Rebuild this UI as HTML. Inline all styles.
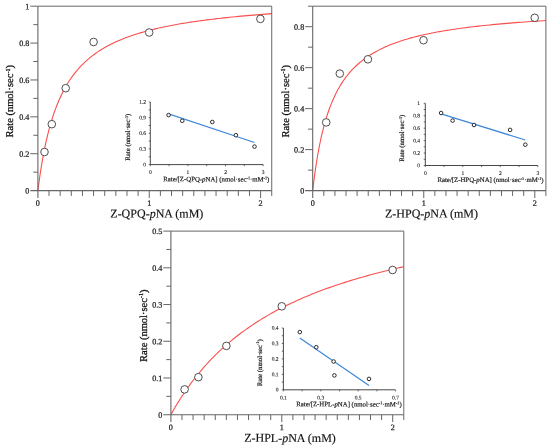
<!DOCTYPE html>
<html><head><meta charset="utf-8"><title>Kinetics</title>
<style>
html,body{margin:0;padding:0;background:#fff;}
svg{display:block;}
text{font-family:"Liberation Serif","Times New Roman",serif;fill:#222;text-rendering:geometricPrecision;}
.tk{font-size:8.15px;stroke:#222;stroke-width:0.25px;}
.tt{font-size:12px;fill:#111;stroke:#111;stroke-width:0.15px;}
.ty{font-size:10.5px;fill:#111;stroke:#111;stroke-width:0.28px;}
.it{font-size:5.5px;stroke:#222;stroke-width:0.1px;}
.ix{font-size:6.8px;stroke:#222;stroke-width:0.2px;}
</style></head><body>
<svg width="550" height="448" viewBox="0 0 550 448">
<rect width="550" height="448" fill="#fff"/>
<polyline points="37.90,190.60 38.01,189.72 38.23,187.97 38.54,185.63 38.91,182.84 39.35,179.70 39.84,176.27 40.38,172.63 40.97,168.83 41.61,164.91 42.29,160.91 43.01,156.86 43.77,152.80 44.58,148.74 45.42,144.71 46.29,140.72 47.21,136.78 48.16,132.92 49.14,129.13 50.15,125.43 51.20,121.82 52.28,118.30 53.39,114.88 54.53,111.55 55.71,108.33 56.91,105.20 58.14,102.17 59.40,99.24 60.69,96.40 62.00,93.66 63.35,91.01 64.72,88.45 66.11,85.98 67.54,83.59 68.99,81.28 70.46,79.05 71.96,76.90 73.49,74.82 75.04,72.82 76.62,70.88 78.22,69.01 79.84,67.20 81.49,65.46 83.17,63.77 84.86,62.14 86.58,60.57 88.32,59.05 90.09,57.58 91.88,56.15 93.69,54.78 95.52,53.45 97.37,52.16 99.25,50.91 101.15,49.71 103.07,48.54 105.01,47.40 106.97,46.31 108.96,45.25 110.96,44.22 112.99,43.22 115.04,42.25 117.10,41.31 119.19,40.40 121.30,39.51 123.43,38.66 125.58,37.82 127.74,37.01 129.93,36.23 132.14,35.46 134.37,34.72 136.61,34.00 138.88,33.30 141.16,32.61 143.47,31.95 145.79,31.30 148.13,30.68 150.50,30.06 152.88,29.47 155.27,28.89 157.69,28.32 160.13,27.77 162.58,27.23 165.05,26.71 167.54,26.20 170.05,25.70 172.58,25.22 175.12,24.75 177.68,24.28 180.26,23.83 182.86,23.39 185.47,22.96 188.11,22.54 190.76,22.13 193.42,21.73 196.11,21.34 198.81,20.96 201.53,20.59 204.26,20.22 207.01,19.87 209.78,19.52 212.57,19.18 215.37,18.84 218.19,18.52 221.03,18.20 223.88,17.89 226.75,17.58 229.64,17.28 232.54,16.99 235.46,16.70 238.39,16.42 241.35,16.14 244.31,15.87 247.30,15.61 250.30,15.35 253.31,15.09 256.34,14.85 259.39,14.60 262.45,14.36 265.53,14.13 268.63,13.90 271.74,13.67" fill="none" stroke="#f94f4d" stroke-width="1.1"/>
<path d="M37.9 6.2H271.735V190.6" fill="none" stroke="#666" stroke-width="1"/>
<path d="M37.9 6.2V198.0M30.299999999999997 190.6H271.735" fill="none" stroke="#666" stroke-width="1.1"/>
<path d="M49.03 190.6v5.3M60.17 190.6v5.3M71.30 190.6v5.3M82.44 190.6v5.3M93.57 190.6v5.3M104.71 190.6v5.3M115.84 190.6v5.3M126.98 190.6v5.3M138.12 190.6v5.3M149.25 190.6v7.4M160.38 190.6v5.3M171.52 190.6v5.3M182.66 190.6v5.3M193.79 190.6v5.3M204.93 190.6v5.3M216.06 190.6v5.3M227.19 190.6v5.3M238.33 190.6v5.3M249.47 190.6v5.3M260.60 190.6v7.4M271.73 190.6v5.3M37.9 172.16h-4.6M37.9 153.72h-7.6M37.9 135.28h-4.6M37.9 116.84h-7.6M37.9 98.40h-4.6M37.9 79.96h-7.6M37.9 61.52h-4.6M37.9 43.08h-7.6M37.9 24.64h-4.6M37.9 6.20h-7.6" fill="none" stroke="#666" stroke-width="1"/>
<text x="29.4" y="193.60" transform="rotate(0.04 29.4 193.60)" text-anchor="end" class="tk">0</text>
<text x="29.4" y="156.72" transform="rotate(0.04 29.4 156.72)" text-anchor="end" class="tk">0.2</text>
<text x="29.4" y="119.84" transform="rotate(0.04 29.4 119.84)" text-anchor="end" class="tk">0.4</text>
<text x="29.4" y="82.96" transform="rotate(0.04 29.4 82.96)" text-anchor="end" class="tk">0.6</text>
<text x="29.4" y="46.08" transform="rotate(0.04 29.4 46.08)" text-anchor="end" class="tk">0.8</text>
<text x="29.4" y="9.20" transform="rotate(0.04 29.4 9.20)" text-anchor="end" class="tk">1</text>
<text x="37.90" y="205.79999999999998" transform="rotate(0.04 37.90 205.79999999999998)" text-anchor="middle" class="tk">0</text>
<text x="149.25" y="205.79999999999998" transform="rotate(0.04 149.25 205.79999999999998)" text-anchor="middle" class="tk">1</text>
<text x="260.60" y="205.79999999999998" transform="rotate(0.04 260.60 205.79999999999998)" text-anchor="middle" class="tk">2</text>
<circle cx="44.5" cy="152.0" r="3.8" fill="#fff" stroke="#444" stroke-width="0.95"/>
<circle cx="51.8" cy="124.2" r="3.8" fill="#fff" stroke="#444" stroke-width="0.95"/>
<circle cx="65.7" cy="88.2" r="3.8" fill="#fff" stroke="#444" stroke-width="0.95"/>
<circle cx="93.6" cy="42" r="3.8" fill="#fff" stroke="#444" stroke-width="0.95"/>
<circle cx="149.2" cy="32.5" r="3.8" fill="#fff" stroke="#444" stroke-width="0.95"/>
<circle cx="260.4" cy="18.9" r="3.8" fill="#fff" stroke="#444" stroke-width="0.95"/>
<text x="156.8" y="217.6" transform="rotate(0.04 156.8 217.6)" text-anchor="middle" class="tt">Z-QPQ-<tspan font-style="italic">p</tspan>NA (mM)</text>
<text transform="translate(13.4 101.19999999999999) rotate(-90)" text-anchor="middle" class="ty">Rate (nmol·sec<tspan dy="-3.3" font-size="6.2">-1</tspan><tspan dy="3.3">)</tspan></text>
<path d="M150.3 102.0V164.6H263.2" fill="none" stroke="#333" stroke-width="0.9"/>
<path d="M150.3 164.60h-1.6M150.3 156.78h-1.6M150.3 148.95h-1.6M150.3 141.13h-1.6M150.3 133.30h-1.6M150.3 125.48h-1.6M150.3 117.65h-1.6M150.3 109.83h-1.6M150.3 102.00h-1.6M150.30 164.6v1.6M169.10 164.6v1.6M187.90 164.6v1.6M206.70 164.6v1.6M225.50 164.6v1.6M244.30 164.6v1.6M263.10 164.6v1.6" fill="none" stroke="#333" stroke-width="0.7"/>
<line x1="168.6" y1="113.9" x2="254.5" y2="142.5" stroke="#4088dc" stroke-width="1.25"/>
<circle cx="168.6" cy="115.1" r="1.8" fill="#fff" stroke="#222" stroke-width="0.95"/>
<circle cx="182.25" cy="120.8" r="1.8" fill="#fff" stroke="#222" stroke-width="0.95"/>
<circle cx="212.3" cy="122.0" r="1.8" fill="#fff" stroke="#222" stroke-width="0.95"/>
<circle cx="235.9" cy="135.2" r="1.8" fill="#fff" stroke="#222" stroke-width="0.95"/>
<circle cx="254.5" cy="146.6" r="1.8" fill="#fff" stroke="#222" stroke-width="0.95"/>
<text x="146.0" y="166.40" transform="rotate(0.04 146.0 166.40)" text-anchor="end" class="it">0</text>
<text x="146.0" y="150.75" transform="rotate(0.04 146.0 150.75)" text-anchor="end" class="it">0.3</text>
<text x="146.0" y="135.10" transform="rotate(0.04 146.0 135.10)" text-anchor="end" class="it">0.6</text>
<text x="146.0" y="119.45" transform="rotate(0.04 146.0 119.45)" text-anchor="end" class="it">0.9</text>
<text x="146.0" y="103.80" transform="rotate(0.04 146.0 103.80)" text-anchor="end" class="it">1.2</text>
<text x="150.3" y="174.0" transform="rotate(0.04 150.3 174.0)" text-anchor="middle" class="it">0</text>
<text x="187.9" y="174.0" transform="rotate(0.04 187.9 174.0)" text-anchor="middle" class="it">1</text>
<text x="225.6" y="174.0" transform="rotate(0.04 225.6 174.0)" text-anchor="middle" class="it">2</text>
<text x="263.2" y="174.0" transform="rotate(0.04 263.2 174.0)" text-anchor="middle" class="it">3</text>
<text x="216.3" y="181.4" transform="rotate(0.04 216.3 181.4)" text-anchor="middle" class="ix">Rate/[Z-QPQ-<tspan font-style="italic">p</tspan>NA] (nmol·sec<tspan dy="-2.2" font-size="4.2">-1</tspan><tspan dy="2.2">·mM</tspan><tspan dy="-2.2" font-size="4.2">-1</tspan><tspan dy="2.2">)</tspan></text>
<text transform="translate(129.7 137.20000000000002) rotate(-90)" text-anchor="middle" class="ix">Rate (nmol·sec<tspan dy="-2.2" font-size="4.2">-1</tspan><tspan dy="2.2">)</tspan></text>
<polyline points="312.70,190.60 312.81,189.64 313.03,187.72 313.34,185.16 313.71,182.13 314.14,178.73 314.63,175.04 315.17,171.15 315.76,167.10 316.40,162.96 317.08,158.75 317.80,154.52 318.56,150.31 319.36,146.12 320.20,141.99 321.07,137.93 321.98,133.95 322.93,130.06 323.91,126.28 324.92,122.60 325.96,119.03 327.04,115.57 328.15,112.22 329.29,108.98 330.46,105.86 331.66,102.85 332.88,99.94 334.14,97.15 335.42,94.45 336.74,91.85 338.08,89.35 339.44,86.95 340.84,84.64 342.26,82.41 343.70,80.26 345.18,78.20 346.67,76.22 348.20,74.30 349.74,72.47 351.31,70.69 352.91,68.99 354.53,67.34 356.18,65.76 357.84,64.24 359.54,62.77 361.25,61.35 362.99,59.98 364.75,58.66 366.53,57.39 368.34,56.16 370.16,54.97 372.01,53.83 373.89,52.72 375.78,51.65 377.69,50.62 379.63,49.62 381.59,48.65 383.57,47.72 385.57,46.81 387.59,45.93 389.63,45.09 391.69,44.26 393.77,43.47 395.87,42.70 398.00,41.95 400.14,41.22 402.30,40.52 404.48,39.83 406.69,39.17 408.91,38.53 411.15,37.90 413.41,37.29 415.69,36.71 417.98,36.13 420.30,35.57 422.64,35.03 424.99,34.51 427.37,33.99 429.76,33.49 432.17,33.01 434.60,32.54 437.04,32.08 439.51,31.63 441.99,31.19 444.49,30.76 447.01,30.35 449.55,29.95 452.11,29.55 454.68,29.17 457.27,28.79 459.88,28.43 462.50,28.07 465.14,27.72 467.80,27.38 470.48,27.05 473.17,26.72 475.89,26.41 478.61,26.10 481.36,25.79 484.12,25.50 486.90,25.21 489.70,24.93 492.51,24.65 495.34,24.38 498.18,24.11 501.04,23.86 503.92,23.60 506.82,23.35 509.73,23.11 512.65,22.87 515.60,22.64 518.56,22.41 521.53,22.19 524.52,21.97 527.53,21.76 530.55,21.55 533.59,21.34 536.65,21.14 539.72,20.94 542.80,20.75 545.90,20.56" fill="none" stroke="#f94f4d" stroke-width="1.1"/>
<path d="M312.7 6.2H545.905V190.6" fill="none" stroke="#666" stroke-width="1"/>
<path d="M312.7 6.2V198.0M305.09999999999997 190.6H545.905" fill="none" stroke="#666" stroke-width="1.1"/>
<path d="M323.81 190.6v5.3M334.91 190.6v5.3M346.01 190.6v5.3M357.12 190.6v5.3M368.22 190.6v5.3M379.33 190.6v5.3M390.44 190.6v5.3M401.54 190.6v5.3M412.64 190.6v5.3M423.75 190.6v7.4M434.86 190.6v5.3M445.96 190.6v5.3M457.06 190.6v5.3M468.17 190.6v5.3M479.27 190.6v5.3M490.38 190.6v5.3M501.49 190.6v5.3M512.59 190.6v5.3M523.69 190.6v5.3M534.80 190.6v7.4M545.90 190.6v5.3M312.7 170.11h-4.6M312.7 149.62h-7.6M312.7 129.13h-4.6M312.7 108.64h-7.6M312.7 88.16h-4.6M312.7 67.67h-7.6M312.7 47.18h-4.6M312.7 26.69h-7.6M312.7 6.20h-4.6" fill="none" stroke="#666" stroke-width="1"/>
<text x="304.2" y="193.60" transform="rotate(0.04 304.2 193.60)" text-anchor="end" class="tk">0</text>
<text x="304.2" y="152.62" transform="rotate(0.04 304.2 152.62)" text-anchor="end" class="tk">0.2</text>
<text x="304.2" y="111.64" transform="rotate(0.04 304.2 111.64)" text-anchor="end" class="tk">0.4</text>
<text x="304.2" y="70.67" transform="rotate(0.04 304.2 70.67)" text-anchor="end" class="tk">0.6</text>
<text x="304.2" y="29.69" transform="rotate(0.04 304.2 29.69)" text-anchor="end" class="tk">0.8</text>
<text x="312.70" y="205.79999999999998" transform="rotate(0.04 312.70 205.79999999999998)" text-anchor="middle" class="tk">0</text>
<text x="423.75" y="205.79999999999998" transform="rotate(0.04 423.75 205.79999999999998)" text-anchor="middle" class="tk">1</text>
<text x="534.80" y="205.79999999999998" transform="rotate(0.04 534.80 205.79999999999998)" text-anchor="middle" class="tk">2</text>
<circle cx="326.2" cy="122.4" r="3.8" fill="#fff" stroke="#444" stroke-width="0.95"/>
<circle cx="339.8" cy="73.6" r="3.8" fill="#fff" stroke="#444" stroke-width="0.95"/>
<circle cx="367.9" cy="59.3" r="3.8" fill="#fff" stroke="#444" stroke-width="0.95"/>
<circle cx="423.5" cy="40.2" r="3.8" fill="#fff" stroke="#444" stroke-width="0.95"/>
<circle cx="534.7" cy="17.8" r="3.8" fill="#fff" stroke="#444" stroke-width="0.95"/>
<text x="431.5" y="217.6" transform="rotate(0.04 431.5 217.6)" text-anchor="middle" class="tt">Z-HPQ-<tspan font-style="italic">p</tspan>NA (mM)</text>
<text transform="translate(288.7 101.19999999999999) rotate(-90)" text-anchor="middle" class="ty">Rate (nmol·sec<tspan dy="-3.3" font-size="6.2">-1</tspan><tspan dy="3.3">)</tspan></text>
<path d="M425.3 103.3V165.5H537.8" fill="none" stroke="#333" stroke-width="0.9"/>
<path d="M425.3 165.50h-1.6M425.3 159.28h-1.6M425.3 153.06h-1.6M425.3 146.84h-1.6M425.3 140.62h-1.6M425.3 134.40h-1.6M425.3 128.18h-1.6M425.3 121.96h-1.6M425.3 115.74h-1.6M425.3 109.52h-1.6M425.3 103.30h-1.6M425.30 165.5v1.6M444.05 165.5v1.6M462.80 165.5v1.6M481.55 165.5v1.6M500.30 165.5v1.6M519.05 165.5v1.6M537.80 165.5v1.6" fill="none" stroke="#333" stroke-width="0.7"/>
<line x1="441.1" y1="113.9" x2="525.3" y2="140.0" stroke="#4088dc" stroke-width="1.25"/>
<circle cx="441.1" cy="113.0" r="1.8" fill="#fff" stroke="#222" stroke-width="0.95"/>
<circle cx="452.6" cy="120.6" r="1.8" fill="#fff" stroke="#222" stroke-width="0.95"/>
<circle cx="474.0" cy="125.0" r="1.8" fill="#fff" stroke="#222" stroke-width="0.95"/>
<circle cx="510.1" cy="129.9" r="1.8" fill="#fff" stroke="#222" stroke-width="0.95"/>
<circle cx="525.3" cy="144.7" r="1.8" fill="#fff" stroke="#222" stroke-width="0.95"/>
<text x="420.0" y="167.30" transform="rotate(0.04 420.0 167.30)" text-anchor="end" class="it">0</text>
<text x="420.0" y="154.86" transform="rotate(0.04 420.0 154.86)" text-anchor="end" class="it">0.2</text>
<text x="420.0" y="142.42" transform="rotate(0.04 420.0 142.42)" text-anchor="end" class="it">0.4</text>
<text x="420.0" y="129.98" transform="rotate(0.04 420.0 129.98)" text-anchor="end" class="it">0.6</text>
<text x="420.0" y="117.54" transform="rotate(0.04 420.0 117.54)" text-anchor="end" class="it">0.8</text>
<text x="420.0" y="105.10" transform="rotate(0.04 420.0 105.10)" text-anchor="end" class="it">1</text>
<text x="425.3" y="174.9" transform="rotate(0.04 425.3 174.9)" text-anchor="middle" class="it">0</text>
<text x="462.8" y="174.9" transform="rotate(0.04 462.8 174.9)" text-anchor="middle" class="it">1</text>
<text x="500.3" y="174.9" transform="rotate(0.04 500.3 174.9)" text-anchor="middle" class="it">2</text>
<text x="537.8" y="174.9" transform="rotate(0.04 537.8 174.9)" text-anchor="middle" class="it">3</text>
<text x="490.5" y="182.1" transform="rotate(0.04 490.5 182.1)" text-anchor="middle" class="ix">Rate/[Z-HPQ-<tspan font-style="italic">p</tspan>NA] (nmol·sec<tspan dy="-2.2" font-size="4.2">-1</tspan><tspan dy="2.2">·mM</tspan><tspan dy="-2.2" font-size="4.2">-1</tspan><tspan dy="2.2">)</tspan></text>
<text transform="translate(404.3 138.3) rotate(-90)" text-anchor="middle" class="ix">Rate (nmol·sec<tspan dy="-2.2" font-size="4.2">-1</tspan><tspan dy="2.2">)</tspan></text>
<polyline points="170.90,414.70 171.01,414.50 171.23,414.10 171.54,413.55 171.91,412.88 172.34,412.11 172.83,411.25 173.37,410.30 173.96,409.28 174.59,408.18 175.27,407.03 175.99,405.81 176.75,404.55 177.55,403.23 178.39,401.87 179.26,400.46 180.17,399.02 181.11,397.54 182.09,396.03 183.10,394.50 184.15,392.94 185.22,391.35 186.33,389.74 187.47,388.12 188.63,386.48 189.83,384.82 191.06,383.16 192.31,381.48 193.59,379.79 194.90,378.10 196.24,376.40 197.61,374.70 199.00,373.00 200.42,371.30 201.86,369.60 203.33,367.89 204.83,366.20 206.35,364.50 207.89,362.81 209.46,361.13 211.06,359.45 212.67,357.78 214.32,356.12 215.98,354.47 217.67,352.82 219.38,351.19 221.12,349.57 222.88,347.96 224.66,346.36 226.46,344.77 228.29,343.19 230.13,341.63 232.00,340.08 233.89,338.54 235.81,337.02 237.74,335.51 239.70,334.01 241.67,332.53 243.67,331.07 245.69,329.61 247.73,328.18 249.78,326.75 251.86,325.34 253.96,323.95 256.08,322.57 258.22,321.21 260.38,319.86 262.56,318.53 264.76,317.21 266.98,315.90 269.21,314.61 271.47,313.34 273.75,312.08 276.04,310.83 278.36,309.60 280.69,308.39 283.04,307.18 285.41,306.00 287.80,304.82 290.21,303.66 292.63,302.52 295.08,301.39 297.54,300.27 300.02,299.17 302.52,298.08 305.03,297.00 307.57,295.94 310.12,294.89 312.69,293.85 315.27,292.82 317.88,291.81 320.50,290.81 323.14,289.83 325.79,288.85 328.47,287.89 331.16,286.94 333.87,286.00 336.59,285.08 339.33,284.16 342.09,283.26 344.86,282.36 347.66,281.48 350.46,280.61 353.29,279.75 356.13,278.91 358.99,278.07 361.86,277.24 364.75,276.42 367.66,275.62 370.58,274.82 373.52,274.03 376.48,273.26 379.45,272.49 382.44,271.73 385.44,270.98 388.46,270.24 391.49,269.51 394.54,268.79 397.61,268.08 400.69,267.38 403.79,266.68" fill="none" stroke="#f94f4d" stroke-width="1.1"/>
<path d="M170.9 231.1H403.79V414.7" fill="none" stroke="#666" stroke-width="1"/>
<path d="M170.9 231.1V422.09999999999997M163.3 414.7H403.79" fill="none" stroke="#666" stroke-width="1.1"/>
<path d="M181.99 414.7v5.3M193.08 414.7v5.3M204.17 414.7v5.3M215.26 414.7v5.3M226.35 414.7v5.3M237.44 414.7v5.3M248.53 414.7v5.3M259.62 414.7v5.3M270.71 414.7v5.3M281.80 414.7v7.4M292.89 414.7v5.3M303.98 414.7v5.3M315.07 414.7v5.3M326.16 414.7v5.3M337.25 414.7v5.3M348.34 414.7v5.3M359.43 414.7v5.3M370.52 414.7v5.3M381.61 414.7v5.3M392.70 414.7v7.4M403.79 414.7v5.3M170.9 396.34h-4.6M170.9 377.98h-7.6M170.9 359.62h-4.6M170.9 341.26h-7.6M170.9 322.90h-4.6M170.9 304.54h-7.6M170.9 286.18h-4.6M170.9 267.82h-7.6M170.9 249.46h-4.6M170.9 231.10h-7.6" fill="none" stroke="#666" stroke-width="1"/>
<text x="162.4" y="417.70" transform="rotate(0.04 162.4 417.70)" text-anchor="end" class="tk">0</text>
<text x="162.4" y="380.98" transform="rotate(0.04 162.4 380.98)" text-anchor="end" class="tk">0.1</text>
<text x="162.4" y="344.26" transform="rotate(0.04 162.4 344.26)" text-anchor="end" class="tk">0.2</text>
<text x="162.4" y="307.54" transform="rotate(0.04 162.4 307.54)" text-anchor="end" class="tk">0.3</text>
<text x="162.4" y="270.82" transform="rotate(0.04 162.4 270.82)" text-anchor="end" class="tk">0.4</text>
<text x="162.4" y="234.10" transform="rotate(0.04 162.4 234.10)" text-anchor="end" class="tk">0.5</text>
<text x="170.90" y="429.9" transform="rotate(0.04 170.90 429.9)" text-anchor="middle" class="tk">0</text>
<text x="281.80" y="429.9" transform="rotate(0.04 281.80 429.9)" text-anchor="middle" class="tk">1</text>
<text x="392.70" y="429.9" transform="rotate(0.04 392.70 429.9)" text-anchor="middle" class="tk">2</text>
<circle cx="184.6" cy="389.4" r="3.8" fill="#fff" stroke="#444" stroke-width="0.95"/>
<circle cx="198.4" cy="377.2" r="3.8" fill="#fff" stroke="#444" stroke-width="0.95"/>
<circle cx="226.4" cy="345.9" r="3.8" fill="#fff" stroke="#444" stroke-width="0.95"/>
<circle cx="281.8" cy="306.3" r="3.8" fill="#fff" stroke="#444" stroke-width="0.95"/>
<circle cx="392.6" cy="270.0" r="3.8" fill="#fff" stroke="#444" stroke-width="0.95"/>
<text x="290.0" y="441.9" transform="rotate(0.04 290.0 441.9)" text-anchor="middle" class="tt">Z-HPL-<tspan font-style="italic">p</tspan>NA (mM)</text>
<text transform="translate(146.7 325.7) rotate(-90)" text-anchor="middle" class="ty">Rate (nmol·sec<tspan dy="-3.3" font-size="6.2">-1</tspan><tspan dy="3.3">)</tspan></text>
<path d="M283.4 328.0V389.8H395.5" fill="none" stroke="#333" stroke-width="0.9"/>
<path d="M283.4 389.80h-1.6M283.4 382.07h-1.6M283.4 374.35h-1.6M283.4 366.62h-1.6M283.4 358.90h-1.6M283.4 351.17h-1.6M283.4 343.45h-1.6M283.4 335.72h-1.6M283.4 328.00h-1.6M283.40 389.8v1.6M302.10 389.8v1.6M320.80 389.8v1.6M339.50 389.8v1.6M358.20 389.8v1.6M376.90 389.8v1.6M395.60 389.8v1.6" fill="none" stroke="#333" stroke-width="0.7"/>
<line x1="299.8" y1="337.9" x2="369.0" y2="385.6" stroke="#4088dc" stroke-width="1.25"/>
<circle cx="299.8" cy="332.1" r="1.8" fill="#fff" stroke="#222" stroke-width="0.95"/>
<circle cx="316.3" cy="347.2" r="1.8" fill="#fff" stroke="#222" stroke-width="0.95"/>
<circle cx="333.6" cy="361.5" r="1.8" fill="#fff" stroke="#222" stroke-width="0.95"/>
<circle cx="334.4" cy="375.4" r="1.8" fill="#fff" stroke="#222" stroke-width="0.95"/>
<circle cx="369.0" cy="378.9" r="1.8" fill="#fff" stroke="#222" stroke-width="0.95"/>
<text x="278.5" y="391.60" transform="rotate(0.04 278.5 391.60)" text-anchor="end" class="it">0</text>
<text x="278.5" y="376.15" transform="rotate(0.04 278.5 376.15)" text-anchor="end" class="it">0.1</text>
<text x="278.5" y="360.70" transform="rotate(0.04 278.5 360.70)" text-anchor="end" class="it">0.2</text>
<text x="278.5" y="345.25" transform="rotate(0.04 278.5 345.25)" text-anchor="end" class="it">0.3</text>
<text x="278.5" y="329.80" transform="rotate(0.04 278.5 329.80)" text-anchor="end" class="it">0.4</text>
<text x="283.4" y="399.4" transform="rotate(0.04 283.4 399.4)" text-anchor="middle" class="it">0.1</text>
<text x="320.8" y="399.4" transform="rotate(0.04 320.8 399.4)" text-anchor="middle" class="it">0.3</text>
<text x="358.2" y="399.4" transform="rotate(0.04 358.2 399.4)" text-anchor="middle" class="it">0.5</text>
<text x="395.5" y="399.4" transform="rotate(0.04 395.5 399.4)" text-anchor="middle" class="it">0.7</text>
<text x="349.0" y="406.4" transform="rotate(0.04 349.0 406.4)" text-anchor="middle" class="ix">Rate/[Z-HPL-<tspan font-style="italic">p</tspan>NA] (nmol·sec<tspan dy="-2.2" font-size="4.2">-1</tspan><tspan dy="2.2">·mM</tspan><tspan dy="-2.2" font-size="4.2">-1</tspan><tspan dy="2.2">)</tspan></text>
<text transform="translate(261.6 362.79999999999995) rotate(-90)" text-anchor="middle" class="ix">Rate (nmol·sec<tspan dy="-2.2" font-size="4.2">-1</tspan><tspan dy="2.2">)</tspan></text>
</svg>
</body></html>
